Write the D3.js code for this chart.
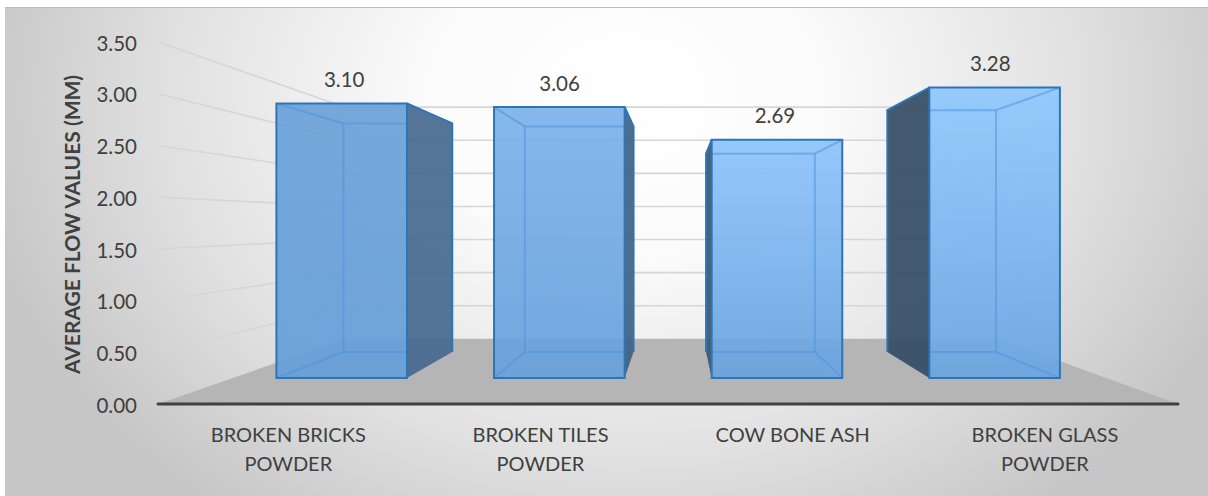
<!DOCTYPE html>
<html>
<head>
<meta charset="utf-8">
<script src="https://cdn.jsdelivr.net/npm/d3@7"></script>
<style>
  html, body { margin: 0; padding: 0; background: #fff; }
  text { font-family: Lato, "Open Sans", sans-serif; fill: #404040; }
</style>
</head>
<body>
<div id="chart"></div>
<script>
var categories = [["BROKEN BRICKS", "POWDER"], ["BROKEN TILES", "POWDER"], ["COW BONE ASH"], ["BROKEN GLASS", "POWDER"]];
var flowValues = [3.10, 3.06, 2.69, 3.28];
var tickValues = [0, 0.5, 1, 1.5, 2, 2.5, 3, 3.5];
var axisTitle  = "AVERAGE FLOW VALUES (MM)";

var width  = 1208,
    height = 496;

// the plot is a box seen in perspective: depth shrinks everything towards one point
var vanishX = 678,
    vanishY = 223;
var wallDepth  = 0.64,
    frontDepth = 0.856,
    backDepth  = 0.713,
    labelDepth = 0.847;

var xLeft  = 158,
    xRight = 1178;

var y = d3.scaleLinear().domain([0, 3.5]).range([404, 42]);
var x = d3.scaleBand()
          .domain(d3.range(categories.length))
          .range([xLeft, 1175])
          .paddingInner(0.4)
          .paddingOuter(0.2);

function project(px, py, depth) {
  return [vanishX + depth * (px - vanishX), vanishY + depth * (py - vanishY)];
}

// corner of the scene from a band position, a value and a depth
function corner(left, value, depth) {
  return project(left, y(value), depth);
}

function pointsOf(list) {
  return list.map(function (p) { return p.join(","); }).join(" ");
}

var svg = d3.select("#chart")
            .append("svg")
            .attr("width", width)
            .attr("height", height)
            .style("display", "block");

var defs = svg.append("defs");

var bgGradient = defs.append("radialGradient")
                     .attr("id", "bg")
                     .attr("gradientUnits", "userSpaceOnUse")
                     .attr("cx", 0).attr("cy", 0).attr("r", 1)
                     .attr("gradientTransform", "translate(625,100) scale(660,520)");
[[0, "#ffffff"], [0.3, "#fbfbfb"], [0.7, "#e0e0e0"], [1, "#c6c6c6"]].forEach(function (s) {
  bgGradient.append("stop").attr("offset", s[0]).attr("stop-color", s[1]);
});

// bars get lighter from left to right, and lighter towards their top
var topColor    = d3.scaleLinear().domain([0, 2, 3]).range(["#6aa1d9", "#8cc3fb", "#8fc8ff"]);
var bottomColor = d3.scaleLinear().domain([0, 3]).range(["#659fd9", "#6aa5e2"]);
var sideColor   = d3.scaleLinear().domain([0, 3]).range(["#45698f", "#344c64"]);

flowValues.forEach(function (v, i) {
  var g = defs.append("linearGradient")
              .attr("id", "bar" + i)
              .attr("x1", 0).attr("y1", 0).attr("x2", 0).attr("y2", 1);
  g.append("stop").attr("offset", 0).attr("stop-color", topColor(i));
  g.append("stop").attr("offset", 1).attr("stop-color", bottomColor(i));
});

svg.append("rect")
   .attr("x", 5).attr("y", 7)
   .attr("width", width - 5).attr("height", height - 7)
   .attr("fill", "url(#bg)");

svg.append("line")
   .attr("x1", 5).attr("x2", width)
   .attr("y1", 7.5).attr("y2", 7.5)
   .attr("stroke", "#bdbdbd");

// floor of the box
svg.append("polygon")
   .attr("points", pointsOf([
     corner(xLeft, 0, 1),
     corner(xRight, 0, 1),
     corner(xRight, 0, wallDepth),
     corner(xLeft, 0, wallDepth)
   ]))
   .attr("fill", "#b5b5b5");

// gridlines run along the left wall, then across the back wall
var gridValues = tickValues.slice(1);

svg.append("g")
   .selectAll("polyline")
   .data(gridValues)
   .enter()
   .append("polyline")
   .attr("points", function (d) {
     return pointsOf([corner(xLeft, d, 1), corner(xLeft, d, wallDepth), corner(xRight, d, wallDepth)]);
   })
   .attr("fill", "none")
   .attr("stroke", "#d6d6d6")
   .attr("stroke-width", 1.6);

var bars = svg.append("g")
              .selectAll("g")
              .data(flowValues)
              .enter()
              .append("g");

bars.each(function (v, i) {
  var bar = d3.select(this);
  var l = x(i),
      r = x(i) + x.bandwidth();

  var fTL = corner(l, v, frontDepth), fTR = corner(r, v, frontDepth),
      fBL = corner(l, 0, frontDepth), fBR = corner(r, 0, frontDepth),
      bTL = corner(l, v, backDepth),  bTR = corner(r, v, backDepth),
      bBL = corner(l, 0, backDepth),  bBR = corner(r, 0, backDepth);

  // the outer side is the one facing away from the vanishing point
  var showLeft = (l + r) / 2 > vanishX;
  var side = showLeft ? [fTL, bTL, bBL, fBL] : [fTR, bTR, bBR, fBR];

  bar.append("polygon")
     .attr("points", pointsOf(side))
     .attr("fill", sideColor(i))
     .attr("fill-opacity", 0.92);

  // top and outer edge of the side face, no stroke along the floor
  bar.append("polyline")
     .attr("points", pointsOf(side.slice(0, 3)))
     .attr("fill", "none")
     .attr("stroke", "#2e75b6")
     .attr("stroke-width", 2)
     .attr("stroke-linejoin", "round");

  bar.append("polygon")
     .attr("points", pointsOf([fTL, fTR, fBR, fBL]))
     .attr("fill", "url(#bar" + i + ")")
     .attr("fill-opacity", 0.92);

  // inner edges of the see-through box, only where they fall inside the front face
  defs.append("clipPath")
      .attr("id", "front" + i)
      .append("polygon")
      .attr("points", pointsOf([fTL, fTR, fBR, fBL]));

  var inner = bar.append("g")
                 .attr("clip-path", "url(#front" + i + ")")
                 .attr("fill", "none")
                 .attr("stroke", "#4f94dc")
                 .attr("stroke-opacity", 0.55)
                 .attr("stroke-width", 2);
  inner.append("polygon").attr("points", pointsOf([bTL, bTR, bBR, bBL]));
  [[fTL, bTL], [fTR, bTR], [fBL, bBL], [fBR, bBR]].forEach(function (e) {
    inner.append("polyline").attr("points", pointsOf(e));
  });

  bar.append("polygon")
     .attr("points", pointsOf([fTL, fTR, fBR, fBL]))
     .attr("fill", "none")
     .attr("stroke", "#2e75b6")
     .attr("stroke-width", 2);

  // value label floats above the box
  var labelPos = project(l + x.bandwidth() / 2, y(v), labelDepth);
  bar.append("text")
     .attr("x", labelPos[0] - 1)
     .attr("y", labelPos[1] - 17.5)
     .attr("text-anchor", "middle")
     .style("font-size", "20.5px")
     .text(d3.format(".2f")(v));
});

// zero line in front of the floor
svg.append("line")
   .attr("x1", xLeft).attr("x2", xRight)
   .attr("y1", y(0)).attr("y2", y(0))
   .attr("stroke", "#404040")
   .attr("stroke-width", 3)
   .attr("stroke-linecap", "round");

var yAxis = d3.axisLeft(y)
              .tickValues(tickValues)
              .tickFormat(d3.format(".2f"))
              .tickSize(0)
              .tickPadding(21);

var yAxisG = svg.append("g")
                .attr("transform", "translate(" + xLeft + ",0)")
                .call(yAxis);
yAxisG.select(".domain").remove();
yAxisG.selectAll("text")
      .style("font-family", "Lato, 'Open Sans', sans-serif")
      .style("font-size", "20.5px")
      .attr("dy", "0.4em");

var xAxis = d3.axisBottom(x).tickSize(0).tickFormat("");

var xAxisG = svg.append("g")
                .attr("transform", "translate(0," + y(0) + ")")
                .call(xAxis);
xAxisG.select(".domain").remove();

// labels sit a touch closer to the middle than their bands
var labelSpread = 0.992;

xAxisG.selectAll(".tick text")
      .style("font-family", "Lato, 'Open Sans', sans-serif")
      .style("font-size", "20px")
      .attr("y", 37.5)
      .attr("dy", 0)
      .each(function (d) {
        var t = d3.select(this);
        var centre = x(d) + x.bandwidth() / 2;
        var shift  = (vanishX - centre) * (1 - labelSpread);
        categories[d].forEach(function (line, n) {
          t.append("tspan")
           .attr("x", shift)
           .attr("dy", n === 0 ? 0 : 29)
           .text(line);
        });
      });

svg.append("text")
   .attr("transform", "translate(80,224.5) rotate(-90)")
   .attr("text-anchor", "middle")
   .style("font-size", "21px")
   .style("font-weight", "bold")
   .text(axisTitle);
</script>
</body>
</html>
